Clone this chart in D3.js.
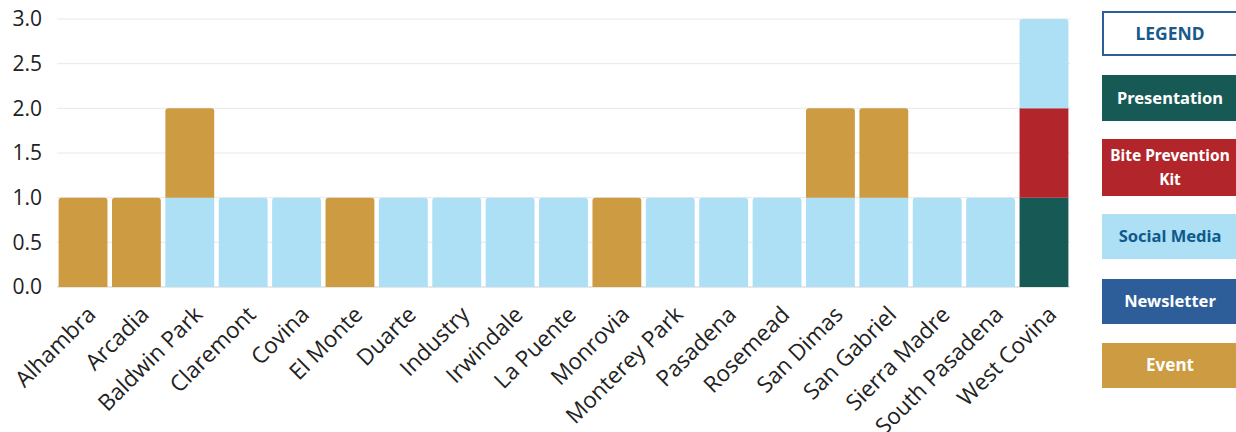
<!DOCTYPE html>
<html>
<head>
<meta charset="utf-8">
<script src="https://cdn.jsdelivr.net/npm/d3@7"></script>
<style>
  body { margin: 0; background: #fff; }
  #graf { width: 1236px; height: 432px; }
  .eje text { font-family: "Open Sans", sans-serif; fill: #222; }
  .eje .domain { display: none; }
  .leyenda text { font-family: "Noto Sans", sans-serif; font-weight: bold; font-size: 16px; }
</style>
</head>
<body>
<div id="graf"></div>
<script>
// datos
ciudades = ['Alhambra', 'Arcadia', 'Baldwin Park', 'Claremont', 'Covina', 'El Monte', 'Duarte',
  'Industry', 'Irwindale', 'La Puente', 'Monrovia', 'Monterey Park', 'Pasadena', 'Rosemead',
  'San Dimas', 'San Gabriel', 'Sierra Madre', 'South Pasadena', 'West Covina']
series = ['Presentation', 'Bite Prevention Kit', 'Social Media', 'Newsletter', 'Event']
presentation = [0, 0, 0, 0, 0, 0, 0, 0, 0, 0, 0, 0, 0, 0, 0, 0, 0, 0, 1]
bitePrevention = [0, 0, 0, 0, 0, 0, 0, 0, 0, 0, 0, 0, 0, 0, 0, 0, 0, 0, 1]
socialMedia = [0, 0, 1, 1, 1, 0, 1, 1, 1, 1, 0, 1, 1, 1, 1, 1, 1, 1, 1]
newsletter = [0, 0, 0, 0, 0, 0, 0, 0, 0, 0, 0, 0, 0, 0, 0, 0, 0, 0, 0]
event = [1, 1, 1, 0, 0, 1, 0, 0, 0, 0, 1, 0, 0, 0, 1, 1, 0, 0, 0]
yTicks = [0, 0.5, 1, 1.5, 2, 2.5, 3]

colores = ['#175955', '#b2262b', '#addff5', '#2e5e99', '#cd9b41']
textoColores = ['#fff', '#fff', '#0f5a8c', '#fff', '#fff']

valores = [presentation, bitePrevention, socialMedia, newsletter, event]
datos = ciudades.map((c, i) => {
  o = { ciudad: c }
  series.forEach((s, j) => { o[s] = valores[j][i] })
  return o
})

ancho_total = 1236
alto_total = 432
margins = { top: 19, left: 57, right: 166, bottom: 145 }
ancho = ancho_total - margins.left - margins.right
alto = alto_total - margins.top - margins.bottom

svg = d3.select('#graf').append('svg')
  .attr('width', ancho_total)
  .attr('height', alto_total)

g = svg.append('g')
  .attr('transform', `translate(${margins.left}, ${margins.top})`)

x = d3.scaleBand().domain(ciudades).range([0, ancho]).paddingInner(0.085).paddingOuter(0.03)
y = d3.scaleLinear().domain([0, 3]).range([alto, 0])
color = d3.scaleOrdinal().domain(series).range(colores)

// grid
g.append('g').selectAll('line')
  .data(yTicks)
  .join('line')
  .attr('x1', 0).attr('x2', ancho)
  .attr('y1', d => y(d)).attr('y2', d => y(d))
  .attr('stroke', d => d === 0 ? '#d0d0d0' : '#e8e8e8')
  .attr('stroke-width', 1)

// eje y
yAxisGroup = g.append('g').attr('class', 'eje')
  .call(d3.axisLeft(y).tickValues(yTicks).tickFormat(d3.format('.1f')).tickSize(0).tickPadding(15))
yAxisGroup.selectAll('text').style('font-size', '21px')

// barras apiladas
stack = d3.stack().keys(series)(datos)

function barra(x0, y0, y1, w, r) {
  // rect con esquinas superiores redondeadas
  r = Math.min(r, (y0 - y1) / 2)
  return `M${x0},${y0}V${y1 + r}Q${x0},${y1} ${x0 + r},${y1}H${x0 + w - r}Q${x0 + w},${y1} ${x0 + w},${y1 + r}V${y0}Z`
}

tops = datos.map(d => d3.sum(series, s => d[s]))

stack.forEach(capa => {
  g.append('g')
    .selectAll('path')
    .data(capa.filter(d => d[1] - d[0] > 0))
    .join('path')
    .attr('fill', color(capa.key))
    .attr('d', d => {
      i = ciudades.indexOf(d.data.ciudad)
      r = d[1] === tops[i] ? 3 : 0
      return barra(x(d.data.ciudad), y(d[0]), y(d[1]), x.bandwidth(), r)
    })
})

// eje x
xAxisGroup = g.append('g').attr('class', 'eje')
  .attr('transform', `translate(0, ${alto})`)
  .call(d3.axisBottom(x).tickSize(0).tickPadding(0))
xAxisGroup.selectAll('text')
  .style('font-size', '22.5px')
  .attr('text-anchor', 'end')
  .attr('dy', 0)
  .attr('transform', d => `translate(14, 29) rotate(-45)`)
  .attr('y', 0)

// leyenda
ley = svg.append('g').attr('class', 'leyenda')
cajas = [
  { t: ['LEGEND'], y0: 11, y1: 56, fill: '#fff', stroke: '#2e5e99', tc: '#1a5a8a', fs: 17.5 },
  { t: ['Presentation'], y0: 75, y1: 121, fill: colores[0], tc: textoColores[0] },
  { t: ['Bite Prevention', 'Kit'], y0: 139, y1: 196, fill: colores[1], tc: textoColores[1], fs: 15.5 },
  { t: ['Social Media'], y0: 214, y1: 259, fill: colores[2], tc: textoColores[2], fs: 16.5 },
  { t: ['Newsletter'], y0: 279, y1: 324, fill: colores[3], tc: textoColores[3] },
  { t: ['Event'], y0: 343, y1: 388, fill: colores[4], tc: textoColores[4], fs: 17 }
]
lx = 1102
lw = 136
cajas.forEach(c => {
  ley.append('rect')
    .attr('x', c.stroke ? lx + 1 : lx).attr('y', c.stroke ? c.y0 + 1 : c.y0)
    .attr('width', lw).attr('height', c.stroke ? c.y1 - c.y0 - 2 : c.y1 - c.y0)
    .attr('fill', c.fill)
    .attr('stroke', c.stroke || 'none')
    .attr('stroke-width', 2)
  cy = (c.y0 + c.y1) / 2
  c.t.forEach((t, k) => {
    ley.append('text')
      .attr('x', lx + 68)
      .attr('y', cy + (k - (c.t.length - 1) / 2) * 24)
      .attr('dy', '0.35em')
      .attr('text-anchor', 'middle')
      .attr('fill', c.tc)
      .style('font-size', (c.fs || 16.5) + 'px')
      .text(t)
  })
})
</script>
</body>
</html>
